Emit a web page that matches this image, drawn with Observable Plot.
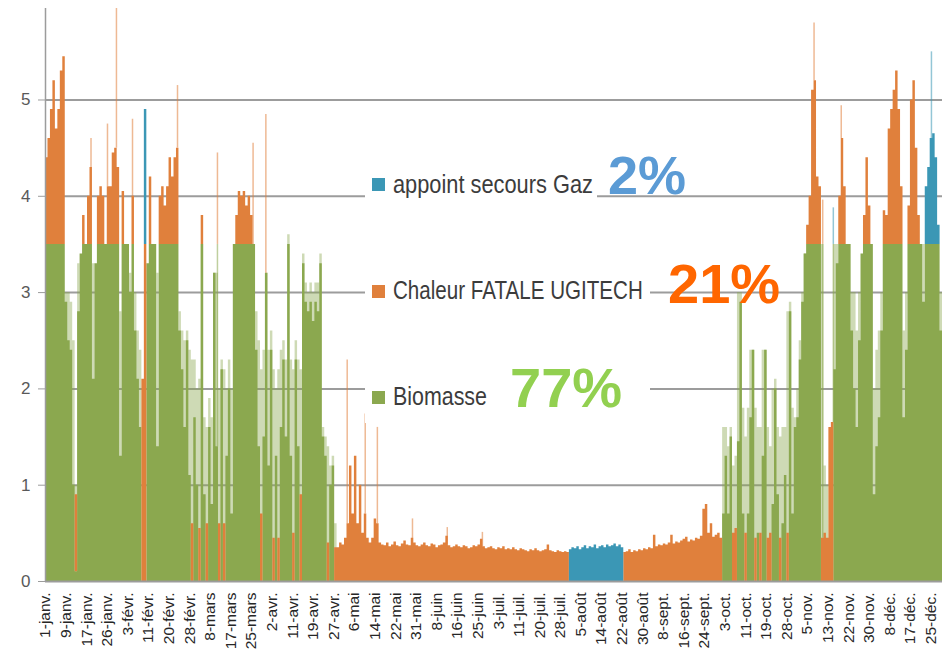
<!DOCTYPE html>
<html><head><meta charset="utf-8">
<script src="https://cdn.jsdelivr.net/npm/d3@7"></script>
<script src="https://cdn.jsdelivr.net/npm/@observablehq/plot@0.6"></script>
<style>
html,body{margin:0;padding:0;background:#fff;}
#chart{width:942px;height:665px;position:relative;overflow:hidden;}
</style></head><body><div id="chart"></div>
<script>
// ---------- DATA ----------
const seriesNames = ["Biomasse", "Chaleur FATALE UGITECH", "appoint secours Gaz"];
const seriesColors = ["#8ba84f", "#e0803c", "#3b97b5"];
const shares = ["77%", "21%", "2%"];
const shareColors = ["#92d050", "#ff6600", "#5b9bd5"];

// daily values (MW), day 0 = 1 January
const bio = [
3.5,3.5,3.5,3.5,3.5,3.5,3.5,3.5,2.9,2.5,
2.4,1.0,0.1,2.8,3.4,3.5,3.5,3.5,3.5,2.1,
3.3,3.5,3.5,3.5,3.5,3.5,3.5,3.5,3.5,3.5,
1.3,3.5,3.5,3.5,3.0,3.5,2.6,2.1,1.6,0,
0,3.3,3.5,3.5,3.5,1.4,3.5,3.5,3.5,3.5,
3.5,3.5,3.5,3.5,2.6,2.2,1.6,2.5,1.1,0,
1.7,1.0,0,3.5,0.9,0,1.6,0.8,3.2,1.4,
0,2.2,0,1.3,2.0,0.7,3.5,3.5,3.5,3.5,
3.5,3.5,3.5,3.5,3.5,2.4,1.4,0,1.5,3.2,
1.2,2.4,0,1.3,0,1.6,2.3,1.5,3.5,1.3,
0,2.3,1.4,0,3.3,2.9,2.8,2.9,2.7,2.9,
2.8,3.3,1.5,1.3,0,1.0,1.2,0,0,0,
0,0,0,0,0,0,0,0,0,0,
0,0,0,0,0,0,0,0,0,0,
0,0,0,0,0,0,0,0,0,0,
0,0,0,0,0,0,0,0,0,0,
0,0,0,0,0,0,0,0,0,0,
0,0,0,0,0,0,0,0,0,0,
0,0,0,0,0,0,0,0,0,0,
0,0,0,0,0,0,0,0,0,0,
0,0,0,0,0,0,0,0,0,0,
0,0,0,0,0,0,0,0,0,0,
0,0,0,0,0,0,0,0,0,0,
0,0,0,0,0,0,0,0,0,0,
0,0,0,0,0,0,0,0,0,0,
0,0,0,0,0,0,0,0,0,0,
0,0,0,0,0,0,0,0,0,0,
0,0,0,0,0.7,1.3,0.7,1.5,0,0,
1.45,2.9,0.7,0,0.7,1.7,2.4,0,0.5,0,
1.3,2.4,0,0,0.8,2.0,0.9,0,0.6,1.1,
0,2.8,0.7,1.6,1.7,2.3,2.9,3.4,3.5,3.5,
3.5,3.5,3.5,3.5,0,0,0,0,0,2.2,
3.3,3.5,3.5,3.5,3.5,3.5,2.6,2.0,1.6,2.5,
3.4,3.5,3.5,3.5,3.5,0.9,1.4,1.7,2.6,3.5,
3.5,3.5,3.5,3.5,3.5,3.5,3.5,1.7,2.4,3.5,
3.5,3.5,3.5,3.5,3.5,2.9,3.5,3.5,3.5,3.5,
3.5,3.5,2.6,2.0,1.9
];
const chal = [
0.9,1.1,1.4,1.7,1.2,1.4,1.8,1.95,0,0,
0,0,0.8,0,0,0.3,0,0.5,0.8,0,
0,0.5,0.6,0.5,0,0.6,0.6,0.95,1.0,0.8,
0,0.55,0,0,0,0.5,0,0,0,2.1,
3.5,0,0.7,0,0,0,0.5,0.6,0.4,0.6,
0.9,0.7,0.9,1.0,0,0,0,0,0,0.6,
0,0,0.55,0.3,0,0.6,0,0,0,0,
0.6,0,0.6,0,0,0,0,0.3,0.55,0.5,
0.55,0.4,0.5,0.3,0,0,0,0.7,0,0,
0,0,0.45,0,0.45,0,0,0,0,0,
0.5,0,0,0.9,0,0,0,0,0,0,
0,0,0,0,0.4,0,0,0.35,0.35,0.4,
0.38,0.45,0.6,1.2,0.7,1.3,0.6,1.0,0.5,0.7,
0.45,0.4,0.45,0.65,0.6,0.4,0.38,0.37,0.4,0.36,
0.38,0.41,0.37,0.36,0.39,0.42,0.38,0.37,0.45,0.4,
0.37,0.36,0.38,0.4,0.37,0.36,0.39,0.38,0.35,0.37,
0.38,0.4,0.47,0.37,0.35,0.36,0.38,0.36,0.35,0.37,
0.36,0.34,0.35,0.37,0.36,0.38,0.44,0.36,0.34,0.35,
0.36,0.34,0.33,0.35,0.34,0.36,0.33,0.34,0.33,0.35,
0.33,0.32,0.34,0.33,0.32,0.31,0.33,0.32,0.34,0.32,
0.31,0.32,0.33,0.38,0.32,0.31,0.3,0.32,0.31,0.3,
0.31,0.3,0,0,0,0,0,0,0,0,
0,0,0,0,0,0,0,0,0,0,
0,0,0,0,0.3,0.31,0.33,0.3,0.32,0.31,
0.33,0.32,0.34,0.33,0.35,0.34,0.48,0.36,0.38,0.37,
0.39,0.38,0.4,0.48,0.39,0.41,0.4,0.42,0.44,0.46,
0.41,0.43,0.42,0.45,0.44,0.47,0.75,0.8,0.5,0.6,
0.46,0.48,0.5,0.45,0,0,0,0,0.5,0.55,
0,0,0,0.5,0,0,0,0.45,0,0.5,
0,0,0.45,0.5,0,0,0,0.45,0,0,
0.5,0,0,0,0,0,0,0,0.2,0.5,
1.6,1.7,0.7,0.6,0.45,0.5,0.45,1.6,1.65,0,
0,0.5,1.1,0.6,0,0,0,0,0,0,
0,0.3,0.9,0.4,0,0,0,0,0,0.35,
0.3,1.2,1.4,1.6,1.8,1.4,0.6,0,0,0.4,
1.5,1.7,1.0,0.3,0,0,0,0,0,0,
0,0,0,0,0
];
// gas backup: only the days where it runs (0 elsewhere)
const gazDays = [40,212,213,214,215,216,217,218,219,220,221,222,223,224,225,226,227,228,229,230,231,232,233,356,357,358,359,360,361];
const gazValues = [1.4,0.33,0.35,0.34,0.36,0.33,0.35,0.37,0.34,0.36,0.35,0.38,0.34,0.36,0.37,0.35,0.38,0.36,0.37,0.39,0.36,0.38,0.35,0.6,0.8,1.1,1.15,0.9,0.2];

// daily maximum of biomass on days with strong hourly swings (light envelope)
const swingDays = [8,9,10,11,12,13,19,30,34,36,37,38,45,
54,55,56,57,58,59,60,61,62,63,64,65,66,67,68,69,70,71,72,73,74,75,
85,86,87,88,89,90,91,92,93,94,95,96,97,98,99,100,101,102,103,104,105,106,107,108,109,110,111,112,113,114,115,116,117,
274,275,276,277,278,279,280,281,282,283,284,285,286,287,288,289,290,291,292,293,294,295,296,297,298,299,300,301,302,303,304,305,306,307,
314,315,316,319,320,326,327,328,329,335,336,337,338,347,348,355,362,363,364];
const swingMax = [3.0,3.0,2.9,2.5,1.0,3.3,3.3,2.8,3.2,3.0,2.6,2.4,3.2,
2.8,2.6,2.5,2.6,2.4,2.3,2.3,2.0,2.1,3.5,1.7,1.6,1.9,1.7,3.2,3.2,2.0,2.3,2.2,2.0,2.3,2.0,
2.8,2.5,2.2,2.4,3.2,2.4,2.6,2.2,2.0,2.2,2.4,2.5,2.3,3.6,2.3,2.2,2.5,2.3,2.2,3.4,3.1,3.0,3.1,3.0,3.1,3.1,3.4,1.6,1.5,1.4,1.2,1.3,0.6,
1.6,1.6,1.4,1.6,1.2,1.3,3.0,3.0,1.8,1.5,1.8,2.4,2.4,1.8,1.6,1.6,2.4,2.4,1.6,1.4,2.0,2.1,1.6,1.5,1.6,1.6,2.8,2.9,1.8,1.7,2.0,2.5,3.0,3.4,
3.5,1.2,1.0,3.5,3.5,3.0,3.0,2.6,3.0,2.0,2.4,2.6,3.0,2.6,3.0,3.5,3.0,2.6,2.4];

// short hourly peaks (hour of year, from, to, series index)
const spikeHour = [442,602,689,845,1282,1670,1670,2016,2140,2930,3105,3223,3564,3902,4243,7464,7548,7548,7651,7651,7728,8604];
const spikeLow  = [4.3,4.1,4.5,4.0,4.5,1.4,3.5,3.5,3.2,0.6,0.7,0.6,0.4,0.38,0.36,5.2,0.45,3.5,1.65,3.5,4.6,4.6];
const spikeHigh = [4.6,4.75,5.95,4.8,5.15,3.5,4.45,4.55,4.85,2.3,1.74,1.6,0.65,0.56,0.51,5.8,3.5,3.96,3.5,3.88,4.94,5.5];
const spikeSeries = [1,1,1,1,1,0,1,1,1,1,1,1,1,1,1,1,0,1,0,2,1,2];

const yTicks = [0,1,2,3,4,5];
const xTickLabels = ["1-janv.","9-janv.","17-janv.","26-janv.","3-févr.","11-févr.","20-févr.","28-févr.","8-mars","17-mars","25-mars","2-avr.","11-avr.","19-avr.","27-avr.","6-mai","14-mai","22-mai","31-mai","8-juin","16-juin","25-juin","3-juil.","11-juil.","20-juil.","28-juil.","5-août","14-août","22-août","30-août","8-sept.","16-sept.","24-sept.","3-oct.","11-oct.","19-oct.","28-oct.","5-nov.","13-nov.","22-nov.","30-nov.","8-déc.","17-déc.","25-déc."];
const xTickStep = 200; // hours between labels

// ---------- BUILD ----------
const nDays = bio.length;
const gaz = bio.map(() => 0);
gazDays.forEach((d, i) => { gaz[d] = gazValues[i]; });
const swing = bio.map(() => 0);
swingDays.forEach((d, i) => { swing[d] = swingMax[i]; });
const perSeries = [bio, chal, gaz];
const rows = [];
const envelope = [];
for (let d = 0; d <= nDays; d++) {
  const i = Math.min(d, nDays - 1); // last row closes the final step
  perSeries.forEach((arr, s) => rows.push({hour: d * 24, series: seriesNames[s], value: arr[i]}));
  envelope.push({hour: d * 24, value: swing[i]});
}
const spikes = spikeHour.map((h, i) => ({hour: h, lo: spikeLow[i], hi: spikeHigh[i], series: seriesNames[spikeSeries[i]]}));
const xTicks = xTickLabels.map((_, i) => i * xTickStep);

const chart = Plot.plot({
  width: 942,
  height: 665,
  marginLeft: 45,
  marginRight: 0,
  marginTop: 8,
  marginBottom: 84,
  x: {domain: [0, 8760], range: [45, 947]},
  y: {domain: [0, 5.95], range: [581, 8]},
  color: {domain: seriesNames, range: seriesColors},
  style: {fontFamily: "'Liberation Sans', Arial, sans-serif", background: "#fff", overflow: "hidden"},
  marks: [
    Plot.ruleY(yTicks.filter(t => t > 0), {y: d => d, stroke: "#9c9c9c", strokeWidth: 2}),
    Plot.areaY(envelope, {x: "hour", y: "value", fill: seriesColors[0], fillOpacity: 0.42, curve: "step-after"}),
    Plot.areaY(rows, {x: "hour", y: "value", fill: "series", curve: "step-after", order: seriesNames}),
    Plot.ruleX(spikes, {x: "hour", y1: "lo", y2: "hi", stroke: "series", strokeOpacity: 0.55, strokeWidth: 1.5}),
    Plot.ruleX([0], {stroke: "#9c9c9c", strokeWidth: 1.5}),
    Plot.ruleY([0], {stroke: "#9c9c9c", strokeWidth: 2}),
    Plot.axisY({ticks: yTicks, tickFormat: d => String(d), tickSize: 7, tickPadding: 8, stroke: "#9c9c9c", fill: "#595959", fontSize: 17, label: null}),
    Plot.axisX({ticks: xTicks, tickFormat: d => xTickLabels[Math.round(d / xTickStep)], tickRotate: -90, tickSize: 0, tickPadding: 11, fill: "#262626", fontSize: 15.5, label: null})
  ]
});
document.getElementById("chart").appendChild(chart);

// ---------- LEGEND (inside the plot) ----------
const svg = d3.select(chart);
const legendLayout = [ // top to bottom: gas, chaleur, biomasse
  {s: 2, box: [365, 165, 232, 47], sq: 178, base: 193, textLen: 200, pctX: 608, pctBase: 194, pctSize: 54},
  {s: 1, box: [365, 265, 285, 50], sq: 285, base: 299, textLen: 250, pctX: 668, pctBase: 303, pctSize: 56},
  {s: 0, box: [365, 350, 285, 73], sq: 391, base: 405, textLen: 94, pctX: 510, pctBase: 407, pctSize: 56}
];
const lg = svg.append("g").attr("text-anchor", "start");
legendLayout.forEach(L => {
  lg.append("rect").attr("x", L.box[0]).attr("y", L.box[1]).attr("width", L.box[2]).attr("height", L.box[3]).attr("fill", "#fff");
});
legendLayout.forEach(L => {
  lg.append("rect").attr("x", 372).attr("y", L.sq).attr("width", 13).attr("height", 13).attr("fill", seriesColors[L.s]);
  const t = lg.append("text").attr("x", 0).attr("y", 0)
    .attr("font-family", "'Liberation Sans', Arial, sans-serif")
    .attr("font-size", 26).attr("fill", "#3c3c3c")
    .text(seriesNames[L.s]);
  const natural = t.node().getComputedTextLength() || L.textLen;
  t.attr("transform", `translate(393,${L.base}) scale(${L.textLen / natural},1)`);
  lg.append("text").attr("x", L.pctX).attr("y", L.pctBase)
    .attr("font-family", "'Liberation Sans', Arial, sans-serif").attr("font-weight", "bold")
    .attr("font-size", L.pctSize).attr("fill", shareColors[L.s]).text(shares[L.s]);
});
</script></body></html>
